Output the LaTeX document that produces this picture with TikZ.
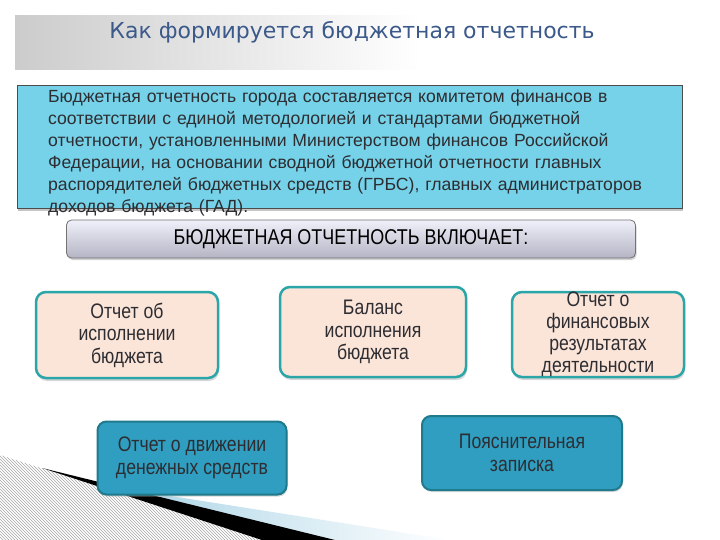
\documentclass[tikz,border=0pt]{standalone}
\usepackage{fontspec}
\setmainfont{Liberation Sans}
\newfontfamily\titlefont{DejaVu Sans}
\newfontfamily\narrowfont{Liberation Sans}[FakeStretch=0.84]
\usetikzlibrary{shadows, patterns, positioning, calc}
\definecolor{titleblue}{RGB}{59, 89, 138}
\definecolor{textgrey}{RGB}{45, 45, 50}
\definecolor{cyanfill}{RGB}{117, 210, 232}
\definecolor{tealline}{RGB}{42, 165, 168}
\definecolor{pinkfill}{RGB}{251, 228, 216}
\definecolor{bluefill}{RGB}{47, 158, 192}
\definecolor{blueline}{RGB}{30, 122, 140}
\definecolor{headtop}{RGB}{240, 240, 250}
\definecolor{headbot}{RGB}{180, 180, 196}
\definecolor{swoosh}{RGB}{170, 212, 230}

\begin{document}
\begin{tikzpicture}[x=1pt, y=-1pt,
  infobox/.style={draw=black!70, line width=0.6pt, fill=cyanfill, minimum width=665, minimum height=123, inner sep=0pt,
    drop shadow={shadow xshift=1pt, shadow yshift=-3pt, fill=black!45}},
  headbox/.style={draw=black!55, line width=0.8pt, rounded corners=5pt, top color=headtop, bottom color=headbot,
    minimum width=569, minimum height=38, font=\narrowfont\fontsize{21.4}{24}\selectfont, text=black,
    drop shadow={shadow xshift=1pt, shadow yshift=-2pt, fill=black!35}},
  pinkbox/.style={draw=tealline, line width=2.5pt, fill=pinkfill, rounded corners=10pt, align=center, inner sep=0pt,
    font=\narrowfont\fontsize{21}{22.5}\selectfont, text=textgrey,
    drop shadow={shadow xshift=1pt, shadow yshift=-3pt, fill=black!30}},
  bluebox/.style={draw=blueline, line width=2pt, fill=bluefill, rounded corners=9pt, align=center, inner sep=0pt,
    font=\narrowfont\fontsize{21}{23}\selectfont, text=textgrey,
    drop shadow={shadow xshift=1pt, shadow yshift=-2pt, fill=black!30}}
]
  \useasboundingbox (0,0) rectangle (720,540);
  \fill[white] (0,0) rectangle (720,540);

  % title band
  \shade[left color=black!20, right color=white, middle color=black!10] (15,16) rectangle (420,70);
  \node[font=\titlefont\fontsize{22}{26}\selectfont, text=titleblue] (title) at (352,32) {Как формируется бюджетная отчетность};

  % corner swoosh
  \fill[pattern=north west lines, pattern color=black!35] (0,455) -- (267,540) -- (0,540) -- cycle;
  \shade[left color=swoosh, right color=white] (120,488) -- (450,540) -- (320,540) -- cycle;
  \fill[black] (42,468) -- (335,540) -- (262,540) -- cycle;

  % text block
  \node[infobox, anchor=north west] (info) at (17,85) {};
  \node[anchor=north west, text width=650, align=left, inner sep=0pt, text=textgrey,
    font=\fontsize{17.6}{22}\selectfont] (infotext) at (48,90) {%
    Бюджетная отчетность города составляется комитетом финансов в\\
    соответствии с единой методологией и стандартами бюджетной\\
    отчетности, установленными Министерством финансов Российской\\
    Федерации, на основании сводной бюджетной отчетности главных\\
    распорядителей бюджетных средств (ГРБС), главных администраторов\\
    доходов бюджета (ГАД).};

  \node[headbox] (includes) at (351,239) {БЮДЖЕТНАЯ ОТЧЕТНОСТЬ ВКЛЮЧАЕТ:};

  % report boxes
  \node[pinkbox, minimum width=182, minimum height=86] (execution) at (127,335) {Отчет об\\исполнении\\бюджета};
  \node[pinkbox, minimum width=186, minimum height=90] (balance) at (373,332) {Баланс\\исполнения\\бюджета};
  \node[pinkbox, minimum width=172, minimum height=85] (results) at (598,334.5) {};
  \node[align=center, inner sep=0pt, font=\narrowfont\fontsize{21}{22}\selectfont, text=textgrey] (resultstext)
    at (results.center) {Отчет о\\финансовых\\результатах\\деятельности};

  \node[bluebox, minimum width=189, minimum height=73] (cashflow) at (192,458) {Отчет о движении\\денежных средств};
  \node[bluebox, minimum width=200, minimum height=74] (notes) at (522,453) {Пояснительная\\записка};
\end{tikzpicture}
\end{document}
